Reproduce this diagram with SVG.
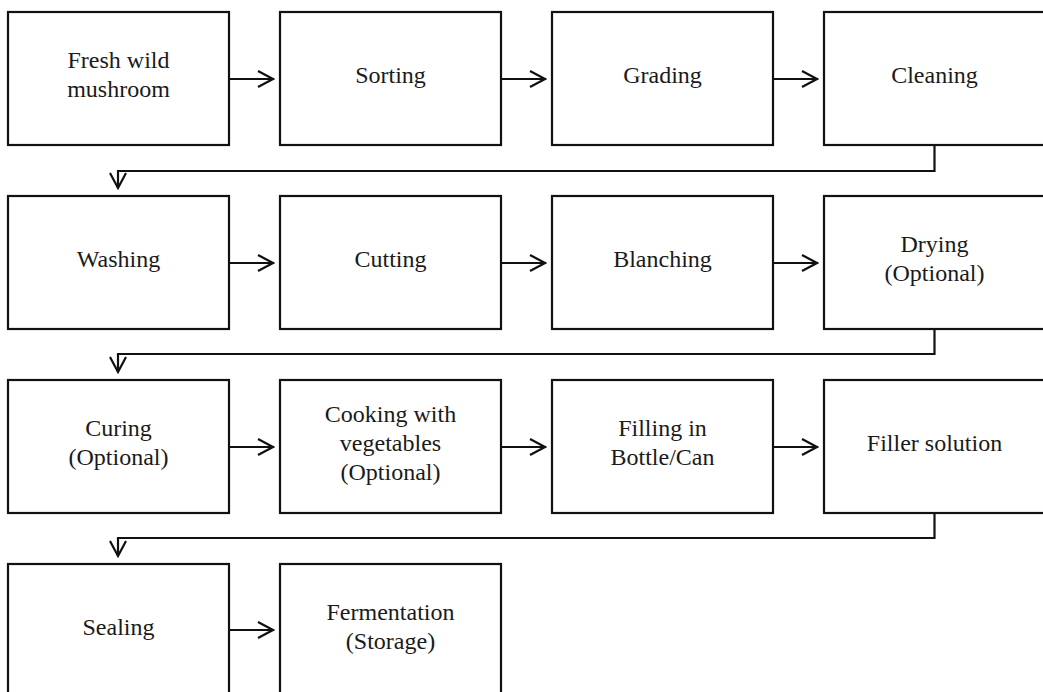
<svg xmlns="http://www.w3.org/2000/svg" width="1043" height="692" viewBox="0 0 1043 692">
  <style>
    .box { fill: #ffffff; stroke: #111111; stroke-width: 2.2; }
    .lbl { font-family: "Liberation Serif", "Times New Roman", serif; font-size: 24px; fill: #1a1a1a; text-anchor: middle; }
    .link { fill: none; stroke: #111111; stroke-width: 2.2; }
  </style>
  <defs>
    <marker id="chev" viewBox="0 0 18 18" refX="16" refY="9" markerWidth="18" markerHeight="18" markerUnits="userSpaceOnUse" orient="auto">
      <path d="M1,1 L16,9 L1,17" fill="none" stroke="#111111" stroke-width="2.2"/>
    </marker>
  </defs>
  <rect width="1043" height="692" fill="#ffffff"/>

  <!-- row 1 -->
  <g id="fresh"><rect class="box" x="8" y="12" width="221" height="133"/>
    <text class="lbl" x="118.5" y="68">Fresh wild</text><text class="lbl" x="118.5" y="97">mushroom</text></g>
  <g id="sorting"><rect class="box" x="280" y="12" width="221" height="133"/>
    <text class="lbl" x="390.5" y="83">Sorting</text></g>
  <g id="grading"><rect class="box" x="552" y="12" width="221" height="133"/>
    <text class="lbl" x="662.5" y="83">Grading</text></g>
  <g id="cleaning"><rect class="box" x="824" y="12" width="221" height="133"/>
    <text class="lbl" x="934.5" y="83">Cleaning</text></g>

  <!-- row 2 -->
  <g id="washing"><rect class="box" x="8" y="196" width="221" height="133"/>
    <text class="lbl" x="118.5" y="267">Washing</text></g>
  <g id="cutting"><rect class="box" x="280" y="196" width="221" height="133"/>
    <text class="lbl" x="390.5" y="267">Cutting</text></g>
  <g id="blanching"><rect class="box" x="552" y="196" width="221" height="133"/>
    <text class="lbl" x="662.5" y="267">Blanching</text></g>
  <g id="drying"><rect class="box" x="824" y="196" width="221" height="133"/>
    <text class="lbl" x="934.5" y="252">Drying</text><text class="lbl" x="934.5" y="281">(Optional)</text></g>

  <!-- row 3 -->
  <g id="curing"><rect class="box" x="8" y="380" width="221" height="133"/>
    <text class="lbl" x="118.5" y="436">Curing</text><text class="lbl" x="118.5" y="465">(Optional)</text></g>
  <g id="cooking"><rect class="box" x="280" y="380" width="221" height="133"/>
    <text class="lbl" x="390.5" y="422">Cooking with</text><text class="lbl" x="390.5" y="451">vegetables</text><text class="lbl" x="390.5" y="480">(Optional)</text></g>
  <g id="filling"><rect class="box" x="552" y="380" width="221" height="133"/>
    <text class="lbl" x="662.5" y="436">Filling in</text><text class="lbl" x="662.5" y="465">Bottle/Can</text></g>
  <g id="filler"><rect class="box" x="824" y="380" width="221" height="133"/>
    <text class="lbl" x="934.5" y="451">Filler solution</text></g>

  <!-- row 4 -->
  <g id="sealing"><rect class="box" x="8" y="564" width="221" height="133"/>
    <text class="lbl" x="118.5" y="635">Sealing</text></g>
  <g id="fermentation"><rect class="box" x="280" y="564" width="221" height="133"/>
    <text class="lbl" x="390.5" y="620">Fermentation</text><text class="lbl" x="390.5" y="649">(Storage)</text></g>

  <g id="connectors">
    <path class="link" marker-end="url(#chev)" d="M229,79 H273"/>
    <path class="link" marker-end="url(#chev)" d="M501,79 H545"/>
    <path class="link" marker-end="url(#chev)" d="M773,79 H817"/>
    <path class="link" marker-end="url(#chev)" d="M934.5,145 V171 H118 V188"/>

    <path class="link" marker-end="url(#chev)" d="M229,263 H273"/>
    <path class="link" marker-end="url(#chev)" d="M501,263 H545"/>
    <path class="link" marker-end="url(#chev)" d="M773,263 H817"/>
    <path class="link" marker-end="url(#chev)" d="M934.5,329 V354 H118 V372"/>

    <path class="link" marker-end="url(#chev)" d="M229,447 H273"/>
    <path class="link" marker-end="url(#chev)" d="M501,447 H545"/>
    <path class="link" marker-end="url(#chev)" d="M773,447 H817"/>
    <path class="link" marker-end="url(#chev)" d="M934.5,513 V538 H118 V556"/>

    <path class="link" marker-end="url(#chev)" d="M229,630 H273"/>
  </g>
</svg>
